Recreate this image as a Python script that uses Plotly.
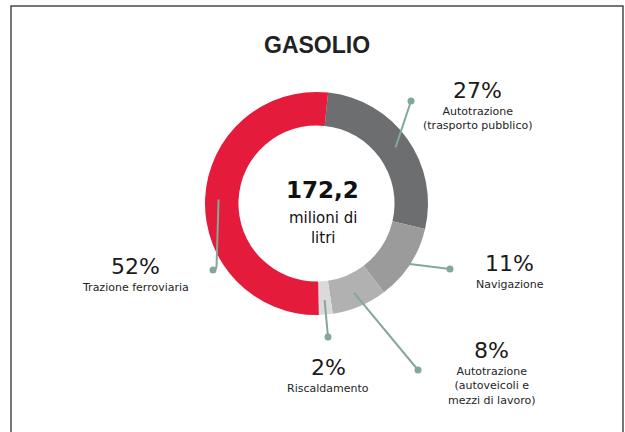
import math
import plotly.graph_objects as go

# data
categories = ["Autotrazione<br>(trasporto pubblico)", "Navigazione",
              "Autotrazione<br>(autoveicoli e<br>mezzi di lavoro)",
              "Riscaldamento", "Trazione ferroviaria"]
shares = [27, 11, 8, 2, 52]
total_text = "172,2"
total_unit = "milioni di<br>litri"
title = "GASOLIO"

colors = ["#6d6e70", "#9b9b9b", "#b1b1b1", "#dadada", "#e41b3a"]

W, H = 625, 432
CX, CY, R_OUT = 316.5, 203.5, 111.5
ROT = 6
LEAD = "#84a898"

# label block centres and leader dot positions (pixels)
label_pos = [(477, 90), (510, 263), (491, 350), (328, 367), (135, 266)]
dot_pos = [(411, 101), (450, 269), (418, 370), (328, 337), (213, 270)]
lead_r = [97, 111, 97, 97, 98]


def px(x, y):
    return x / W, 1 - y / H


fig = go.Figure()
x0, y0 = px(CX - R_OUT, CY + R_OUT)
x1, y1 = px(CX + R_OUT, CY - R_OUT)
fig.add_trace(go.Pie(
    values=shares, labels=categories, sort=False, direction="clockwise",
    rotation=ROT, hole=0.70, textinfo="none", hoverinfo="skip",
    marker=dict(colors=colors, line=dict(width=0)),
    domain=dict(x=[x0, x1], y=[y0, y1]), showlegend=False,
))

shapes = []
annotations = []
cum = 0
for i, (cat, v) in enumerate(zip(categories, shares)):
    mid = math.radians(ROT + (cum + v / 2) * 3.6)
    cum += v
    sx = CX + lead_r[i] * math.sin(mid)
    sy = CY - lead_r[i] * math.cos(mid)
    dx, dy = dot_pos[i]
    if i == 4:
        # hooked leader on the left
        a, b = px(sx, sy)
        c, d = px(sx - 2, dy - 5)
        e, f = px(dx, dy)
        shapes.append(dict(type="path", xref="paper", yref="paper",
                           path=f"M {a},{b} L {c},{d} Q {c},{f} {e},{f}",
                           line=dict(color=LEAD, width=2)))
    else:
        a, b = px(sx, sy)
        e, f = px(dx, dy)
        shapes.append(dict(type="line", xref="paper", yref="paper",
                           x0=a, y0=b, x1=e, y1=f,
                           line=dict(color=LEAD, width=2)))
    c0, d0 = px(dx - 3.5, dy + 3.5)
    c1, d1 = px(dx + 3.5, dy - 3.5)
    shapes.append(dict(type="circle", xref="paper", yref="paper",
                       x0=c0, y0=d0, x1=c1, y1=d1,
                       fillcolor=LEAD, line=dict(width=0)))

    lx, ly = label_pos[i]
    ax, ay = px(lx, ly)
    annotations.append(dict(x=ax, y=ay, xref="paper", yref="paper",
                            text=f"{v}%", showarrow=False,
                            xanchor="center", yanchor="middle",
                            font=dict(family="DejaVu Sans", size=22, color="#1a1a1a")))
    bx, by = px(lx, ly + 13)
    annotations.append(dict(x=bx, y=by, xref="paper", yref="paper",
                            text=cat, showarrow=False,
                            xanchor="center", yanchor="top",
                            font=dict(family="DejaVu Sans", size=11, color="#1e1e1e")))

# centre text
tx, ty = px(CX + 6, 190)
annotations.append(dict(x=tx, y=ty, xref="paper", yref="paper", text=f"<b>{total_text}</b>",
                        showarrow=False, xanchor="center", yanchor="middle",
                        font=dict(family="DejaVu Sans", size=23, color="#111111")))
ux, uy = px(CX + 6, 207)
annotations.append(dict(x=ux, y=uy, xref="paper", yref="paper", text=total_unit,
                        showarrow=False, xanchor="center", yanchor="top",
                        font=dict(family="DejaVu Sans", size=15, color="#111111")))
# title
gx, gy = px(317, 45)
annotations.append(dict(x=gx, y=gy, xref="paper", yref="paper", text=f"<b>{title}</b>",
                        showarrow=False, xanchor="center", yanchor="middle",
                        font=dict(family="Liberation Sans", size=23, color="#222222")))

# frame
f0, g0 = px(11, 445)
f1, g1 = px(623, 6)
shapes.append(dict(type="rect", xref="paper", yref="paper", x0=f0, y0=g0, x1=f1, y1=g1,
                   line=dict(color="#4a4a4a", width=1.5)))

fig.update_layout(
    width=W, height=H, margin=dict(l=0, r=0, t=0, b=0),
    paper_bgcolor="white", plot_bgcolor="white",
    shapes=shapes, annotations=annotations,
)
# drop the default 8px page margin so the figure fills the window
fig.write_html("out.html", config={"displayModeBar": False},
               post_script="document.body.style.margin='0';document.body.style.overflow='hidden';")
